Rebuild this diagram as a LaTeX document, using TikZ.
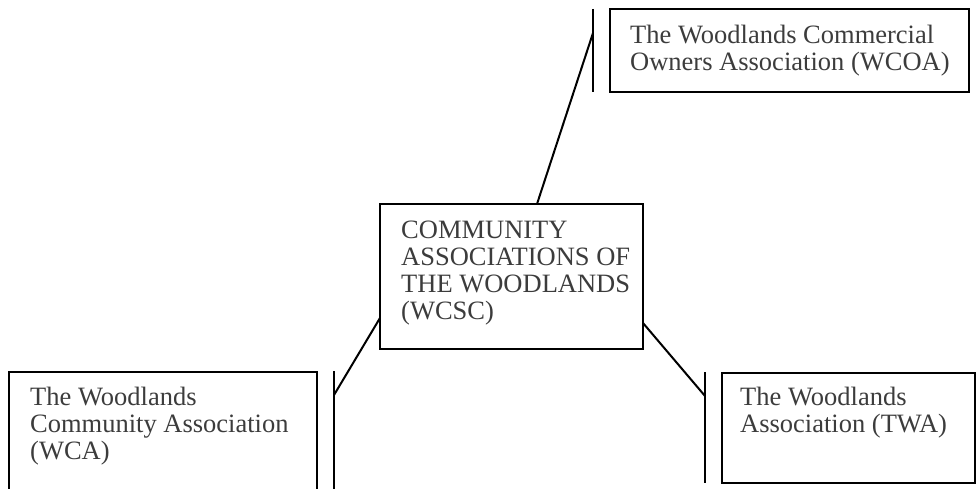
\documentclass[tikz,border=0pt]{standalone}
\usepackage{fontspec}
\setmainfont{Liberation Serif}
\usetikzlibrary{calc}
\definecolor{txt}{HTML}{3C3C3C}
\tikzset{
  box/.style={draw=black, line width=2pt, anchor=north west, inner sep=0pt, outer sep=0pt},
  lbl/.style={anchor=base west, inner sep=0pt, align=left, text=txt, font={\fontsize{26.5pt}{27pt}\selectfont}},
  wire/.style={draw=black, line width=2pt},
}
\begin{document}
\begin{tikzpicture}[x=1pt,y=-1pt]
\useasboundingbox (0,0) rectangle (977,489);
\clip (0,0) rectangle (977,489);
% boxes
\node[box, minimum width=359pt, minimum height=83pt] (wcoa) at (610,9) {};
\node[box, minimum width=263pt, minimum height=145pt] (ctr) at (380,204) {};
\node[box, minimum width=308pt, minimum height=140pt] (wca) at (9,372) {};
\node[box, minimum width=253pt, minimum height=110pt] (twa) at (722,373) {};
% texts (anchored at the baseline of the last line)
\node[lbl] (twcoa) at (630,70.3) {The Woodlands Commercial\\Owners Association (WCOA)};
\node[lbl] (tctr) at (401,319.3) {COMMUNITY\\ASSOCIATIONS OF\\THE WOODLANDS\\(WCSC)};
\node[lbl] (twca) at (30,459) {The Woodlands\\Community Association\\(WCA)};
\node[lbl] (ttwa) at (740,432) {The Woodlands\\Association (TWA)};
% bars
\coordinate (b1t) at (593,9);  \coordinate (b1b) at (593,92);
\coordinate (b2t) at (334,371); \coordinate (b2b) at (334,500);
\coordinate (b3t) at (705,372); \coordinate (b3b) at (705,483);
\draw[wire] (b1t) -- (b1b);
\draw[wire] (b2t) -- (b2b);
\draw[wire] (b3t) -- (b3b);
% connectors
\coordinate (j1) at (593,33);
\coordinate (j2) at (334,395);
\coordinate (j3) at (705,396);
\draw[wire] ($(ctr.north west)+(157,0)$) -- (j1);
\draw[wire] ($(ctr.north west)+(0,114)$) -- (j2);
\draw[wire] ($(ctr.north east)+(0,119)$) -- (j3);
\end{tikzpicture}
\end{document}
